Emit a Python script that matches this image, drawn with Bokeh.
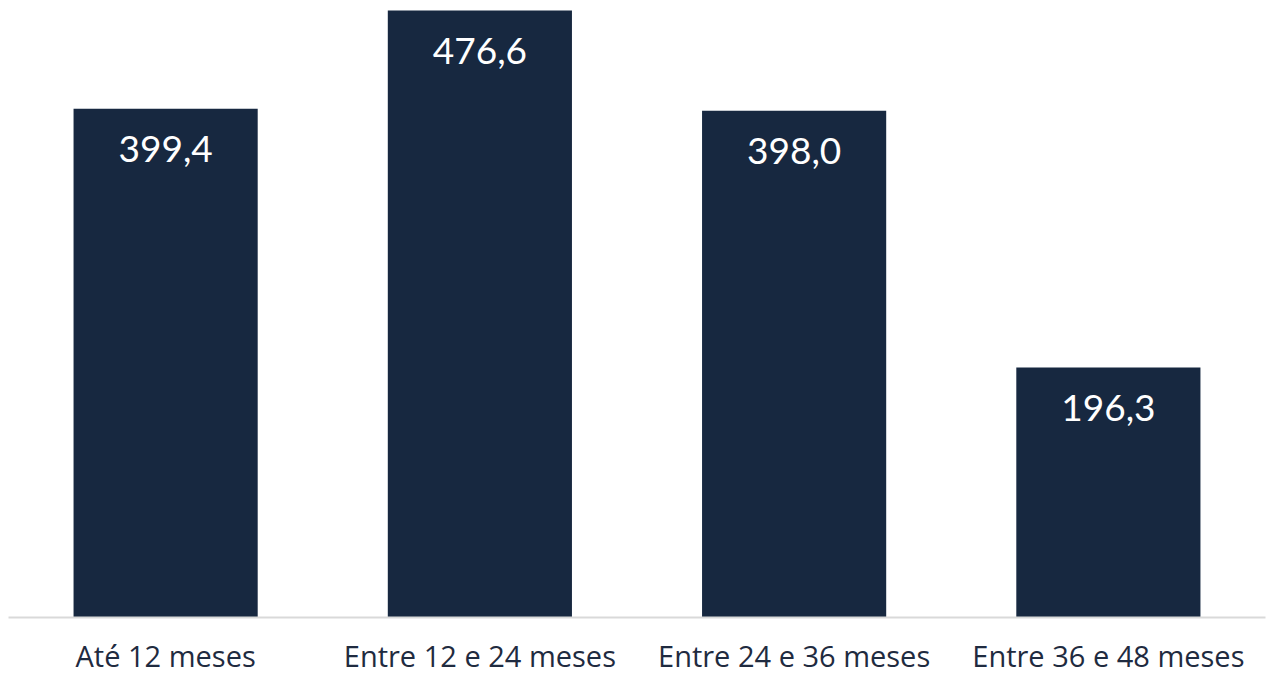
from bokeh.plotting import figure
from bokeh.models import ColumnDataSource, LabelSet, Range1d
from bokeh.core.properties import value
from bokeh.embed import file_html
from bokeh.resources import INLINE

categories = ["Até 12 meses", "Entre 12 e 24 meses", "Entre 24 e 36 meses", "Entre 36 e 48 meses"]
values = [399.4, 476.6, 398.0, 196.3]
labels = [f"{v:.1f}".replace(".", ",") for v in values]

BAR = "#172840"
TEXT = "#1f2b40"

src = ColumnDataSource(dict(cat=categories, val=values, lab=labels))

p = figure(x_range=categories, y_range=Range1d(0, 478.2),
           width=1273, height=669, output_backend="svg", toolbar_location=None,
           min_border_left=8, min_border_right=8, min_border_top=8, min_border_bottom=0)
p.frame_height = 609
p.frame_width = 1257

p.vbar(x="cat", top="val", width=0.586, source=src, fill_color=BAR, line_color=None)

lbl = LabelSet(x="cat", y="val", text="lab", source=src, y_offset=-40,
               text_align="center", text_baseline="middle", text_color="white",
               text_font=value("Lato"), text_font_size="37px")
p.add_layout(lbl)

p.yaxis.visible = False
p.grid.visible = False
p.outline_line_color = None
p.xaxis.axis_line_color = "#d9d9d9"
p.xaxis.axis_line_width = 2
p.xaxis.major_tick_line_color = None
p.xaxis.minor_tick_line_color = None
p.xaxis.major_label_text_font = "Open Sans"
p.xaxis.major_label_text_font_size = "29px"
p.xaxis.major_label_text_color = TEXT
p.xaxis.major_label_standoff = 12
p.x_range.range_padding = 0

open("out.html", "w").write(file_html(p, INLINE))
